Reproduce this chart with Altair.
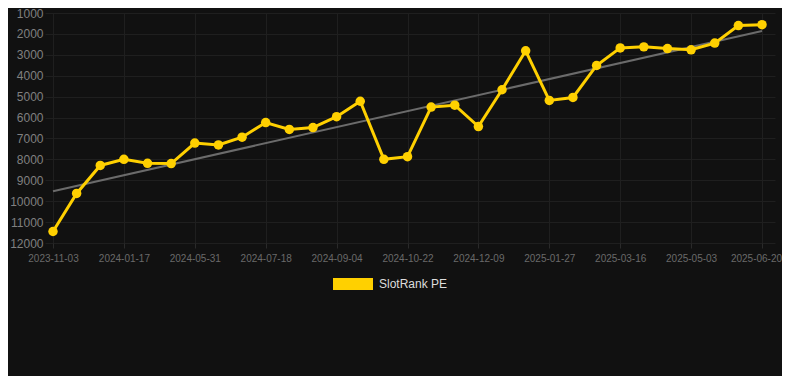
import altair as alt
import pandas as pd

dates = ["2023-11-03","2023-11-28","2023-12-23","2024-01-17","2024-03-02","2024-04-16",
         "2024-05-31","2024-06-16","2024-07-02","2024-07-18","2024-08-03","2024-08-19",
         "2024-09-04","2024-09-20","2024-10-06","2024-10-22","2024-11-07","2024-11-23",
         "2024-12-09","2024-12-25","2025-01-11","2025-01-27","2025-02-12","2025-02-28",
         "2025-03-16","2025-04-01","2025-04-17","2025-05-03","2025-05-19","2025-06-04",
         "2025-06-20"]
ranks = [11450, 9630, 8290, 8000, 8190, 8200, 7220, 7310, 6940, 6240, 6570, 6480,
         5960, 5220, 8000, 7870, 5500, 5410, 6430, 4670, 2810, 5180, 5040, 3510,
         2670, 2620, 2700, 2760, 2440, 1600, 1560]
y_ticks = [1000, 2000, 3000, 4000, 5000, 6000, 7000, 8000, 9000, 10000, 11000, 12000]
series_name = "SlotRank PE"

df = pd.DataFrame({"date": dates, "rank": ranks})
df["idx"] = range(len(df))
df["series"] = series_name

tick_idx = list(range(0, len(dates), 3))
tick_labels = [dates[i] for i in tick_idx]
label_expr = "[" + ",".join(f"'{d}'" for d in tick_labels) + "][round(datum.value/3)]"
last_idx = tick_idx[-1]

FONT = "Liberation Sans"
YELLOW = "#FFD000"

x_scale = alt.Scale(domain=[-0.3385, 30.55], nice=False, zero=False)
y_scale = alt.Scale(domain=[1000, 12000], reverse=True, nice=False, zero=False)

x_enc = alt.X("idx:Q", scale=x_scale, title=None,
              axis=alt.Axis(values=tick_idx, labelExpr=label_expr, grid=True,
                            gridColor="#1f1f1f", domain=False, ticks=True, tickSize=5,
                            tickColor="#2a2a2a", labelColor="#6a6a6a", labelFontSize=10,
                            labelFont=FONT, labelPadding=5, labelOverlap=False,
                            labelOffset={"condition": {"test": f"datum.value == {last_idx}",
                                                       "value": -6}, "value": 0}))
y_enc = alt.Y("rank:Q", scale=y_scale, title=None,
              axis=alt.Axis(values=y_ticks, format="d", grid=True, gridColor="#1f1f1f",
                            domain=False, ticks=False, labelColor="#808080", labelFontSize=12,
                            labelFont=FONT, labelPadding=2))

base = alt.Chart(df)

trend = base.transform_regression("idx", "rank").mark_line(
    color="#6b6b6b", strokeWidth=2).encode(x=x_enc, y=y_enc)

line = base.mark_line(color=YELLOW, strokeWidth=3).encode(x=x_enc, y=y_enc)

points = base.mark_circle(size=90, opacity=1).encode(
    x=x_enc, y=y_enc,
    color=alt.Color("series:N", scale=alt.Scale(range=[YELLOW]),
                    legend=alt.Legend(title=None, orient="none", legendX=288, legendY=251,
                                      symbolType="M-1,-0.3H1V0.3H-1Z", symbolSize=1600,
                                      symbolStrokeWidth=0, symbolOpacity=1,
                                      labelColor="#dddddd", labelFontSize=12, labelFont=FONT,
                                      labelOffset=6, padding=0)))

chart = alt.layer(trend, line, points).properties(
    width=730, height=230,
    background="#111111",
    padding={"left": 37, "top": 5, "right": 7, "bottom": 133},
    autosize=alt.AutoSizeParams(type="none"),
).configure_view(stroke=None)

chart.save("out.html", embed_options={"renderer": "svg", "actions": False})
